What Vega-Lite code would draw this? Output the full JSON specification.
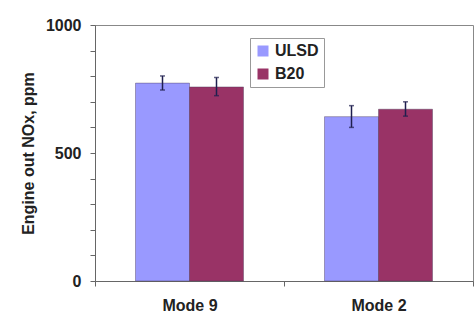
{
  "$schema": "https://vega.github.io/schema/vega-lite/v6.json",
  "width": 378,
  "height": 256,
  "autosize": "none",
  "padding": {"left": 95, "top": 25, "right": 2, "bottom": 43},
  "background": "white",
  "config": {
    "view": {"stroke": "#888888", "strokeWidth": 1, "fill": "white"},
    "font": "Liberation Sans",
    "axisY": {
      "titleFont": "Liberation Sans",
      "titleFontSize": 16,
      "titleFontWeight": "bold",
      "titleColor": "#222222",
      "titlePadding": 9,
      "labelOverlap": false,
      "labelFont": "Liberation Sans",
      "labelFontSize": 16,
      "labelFontWeight": "bold",
      "labelColor": "#222222",
      "labelPadding": 9,
      "tickSize": 5,
      "tickColor": "#666666",
      "domainColor": "#666666",
      "grid": false
    }
  },
  "data": {
    "values": [
      {"mode": "Mode 9", "fuel": "ULSD", "nox": 773, "lo": 746, "hi": 801},
      {"mode": "Mode 9", "fuel": "B20", "nox": 758, "lo": 724, "hi": 795},
      {"mode": "Mode 2", "fuel": "ULSD", "nox": 642, "lo": 600, "hi": 685},
      {"mode": "Mode 2", "fuel": "B20", "nox": 671, "lo": 644, "hi": 700}
    ]
  },
  "encoding": {
    "x": {
      "field": "mode",
      "type": "nominal",
      "sort": ["Mode 9", "Mode 2"],
      "scale": {"paddingInner": 0, "paddingOuter": 0},
      "axis": {
        "title": null,
        "labelAngle": 0,
        "labelFont": "Liberation Sans",
        "labelFontSize": 16,
        "labelFontWeight": "bold",
        "labelColor": "#222222",
        "labelPadding": 11,
        "tickBand": "extent",
        "tickSize": 5,
        "tickColor": "#666666",
        "domainColor": "#666666",
        "grid": false
      }
    },
    "xOffset": {
      "field": "fuel",
      "type": "nominal",
      "sort": ["ULSD", "B20"],
      "scale": {"paddingInner": 0, "paddingOuter": 0.75}
    }
  },
  "layer": [
    {
      "mark": {"type": "bar", "stroke": "#4a3a5a", "strokeWidth": 0.6, "strokeOpacity": 0.7},
      "encoding": {
        "y": {
          "field": "nox",
          "type": "quantitative",
          "scale": {"domain": [0, 1000], "nice": false},
          "axis": {
            "title": "Engine out NOx, ppm",
            "values": [0, 100, 200, 300, 400, 500, 600, 700, 800, 900, 1000],
            "labelExpr": "datum.value % 500 === 0 ? datum.label : ''",
            "format": "d"
          }
        },
        "color": {
          "field": "fuel",
          "type": "nominal",
          "sort": ["ULSD", "B20"],
          "scale": {"domain": ["ULSD", "B20"], "range": ["#9999FF", "#993366"]},
          "legend": {
            "title": null,
            "orient": "none",
            "legendX": 155,
            "legendY": 13,
            "symbolType": "square",
            "symbolSize": 121,
            "symbolStrokeWidth": 0,
            "symbolOpacity": 1,
            "labelFont": "Liberation Sans",
            "labelFontSize": 16,
            "labelFontWeight": "bold",
            "labelColor": "#222222",
            "labelOffset": 4,
            "rowPadding": 7,
            "padding": 5,
            "strokeColor": "#999999",
            "fillColor": "white"
          }
        }
      }
    },
    {
      "mark": {"type": "rule", "color": "#1f1f4f", "strokeWidth": 1.5},
      "encoding": {
        "y": {
          "field": "lo",
          "type": "quantitative",
          "axis": {
            "title": "Engine out NOx, ppm",
            "values": [0, 100, 200, 300, 400, 500, 600, 700, 800, 900, 1000],
            "labelExpr": "datum.value % 500 === 0 ? datum.label : ''",
            "format": "d"
          }
        },
        "y2": {"field": "hi"}
      }
    },
    {
      "mark": {"type": "tick", "color": "#1f1f4f", "size": 5, "thickness": 1.5, "orient": "horizontal"},
      "encoding": {
        "y": {
          "field": "lo",
          "type": "quantitative",
          "axis": {
            "title": "Engine out NOx, ppm",
            "values": [0, 100, 200, 300, 400, 500, 600, 700, 800, 900, 1000],
            "labelExpr": "datum.value % 500 === 0 ? datum.label : ''",
            "format": "d"
          }
        }
      }
    },
    {
      "mark": {"type": "tick", "color": "#1f1f4f", "size": 5, "thickness": 1.5, "orient": "horizontal"},
      "encoding": {
        "y": {
          "field": "hi",
          "type": "quantitative",
          "axis": {
            "title": "Engine out NOx, ppm",
            "values": [0, 100, 200, 300, 400, 500, 600, 700, 800, 900, 1000],
            "labelExpr": "datum.value % 500 === 0 ? datum.label : ''",
            "format": "d"
          }
        }
      }
    }
  ]
}
